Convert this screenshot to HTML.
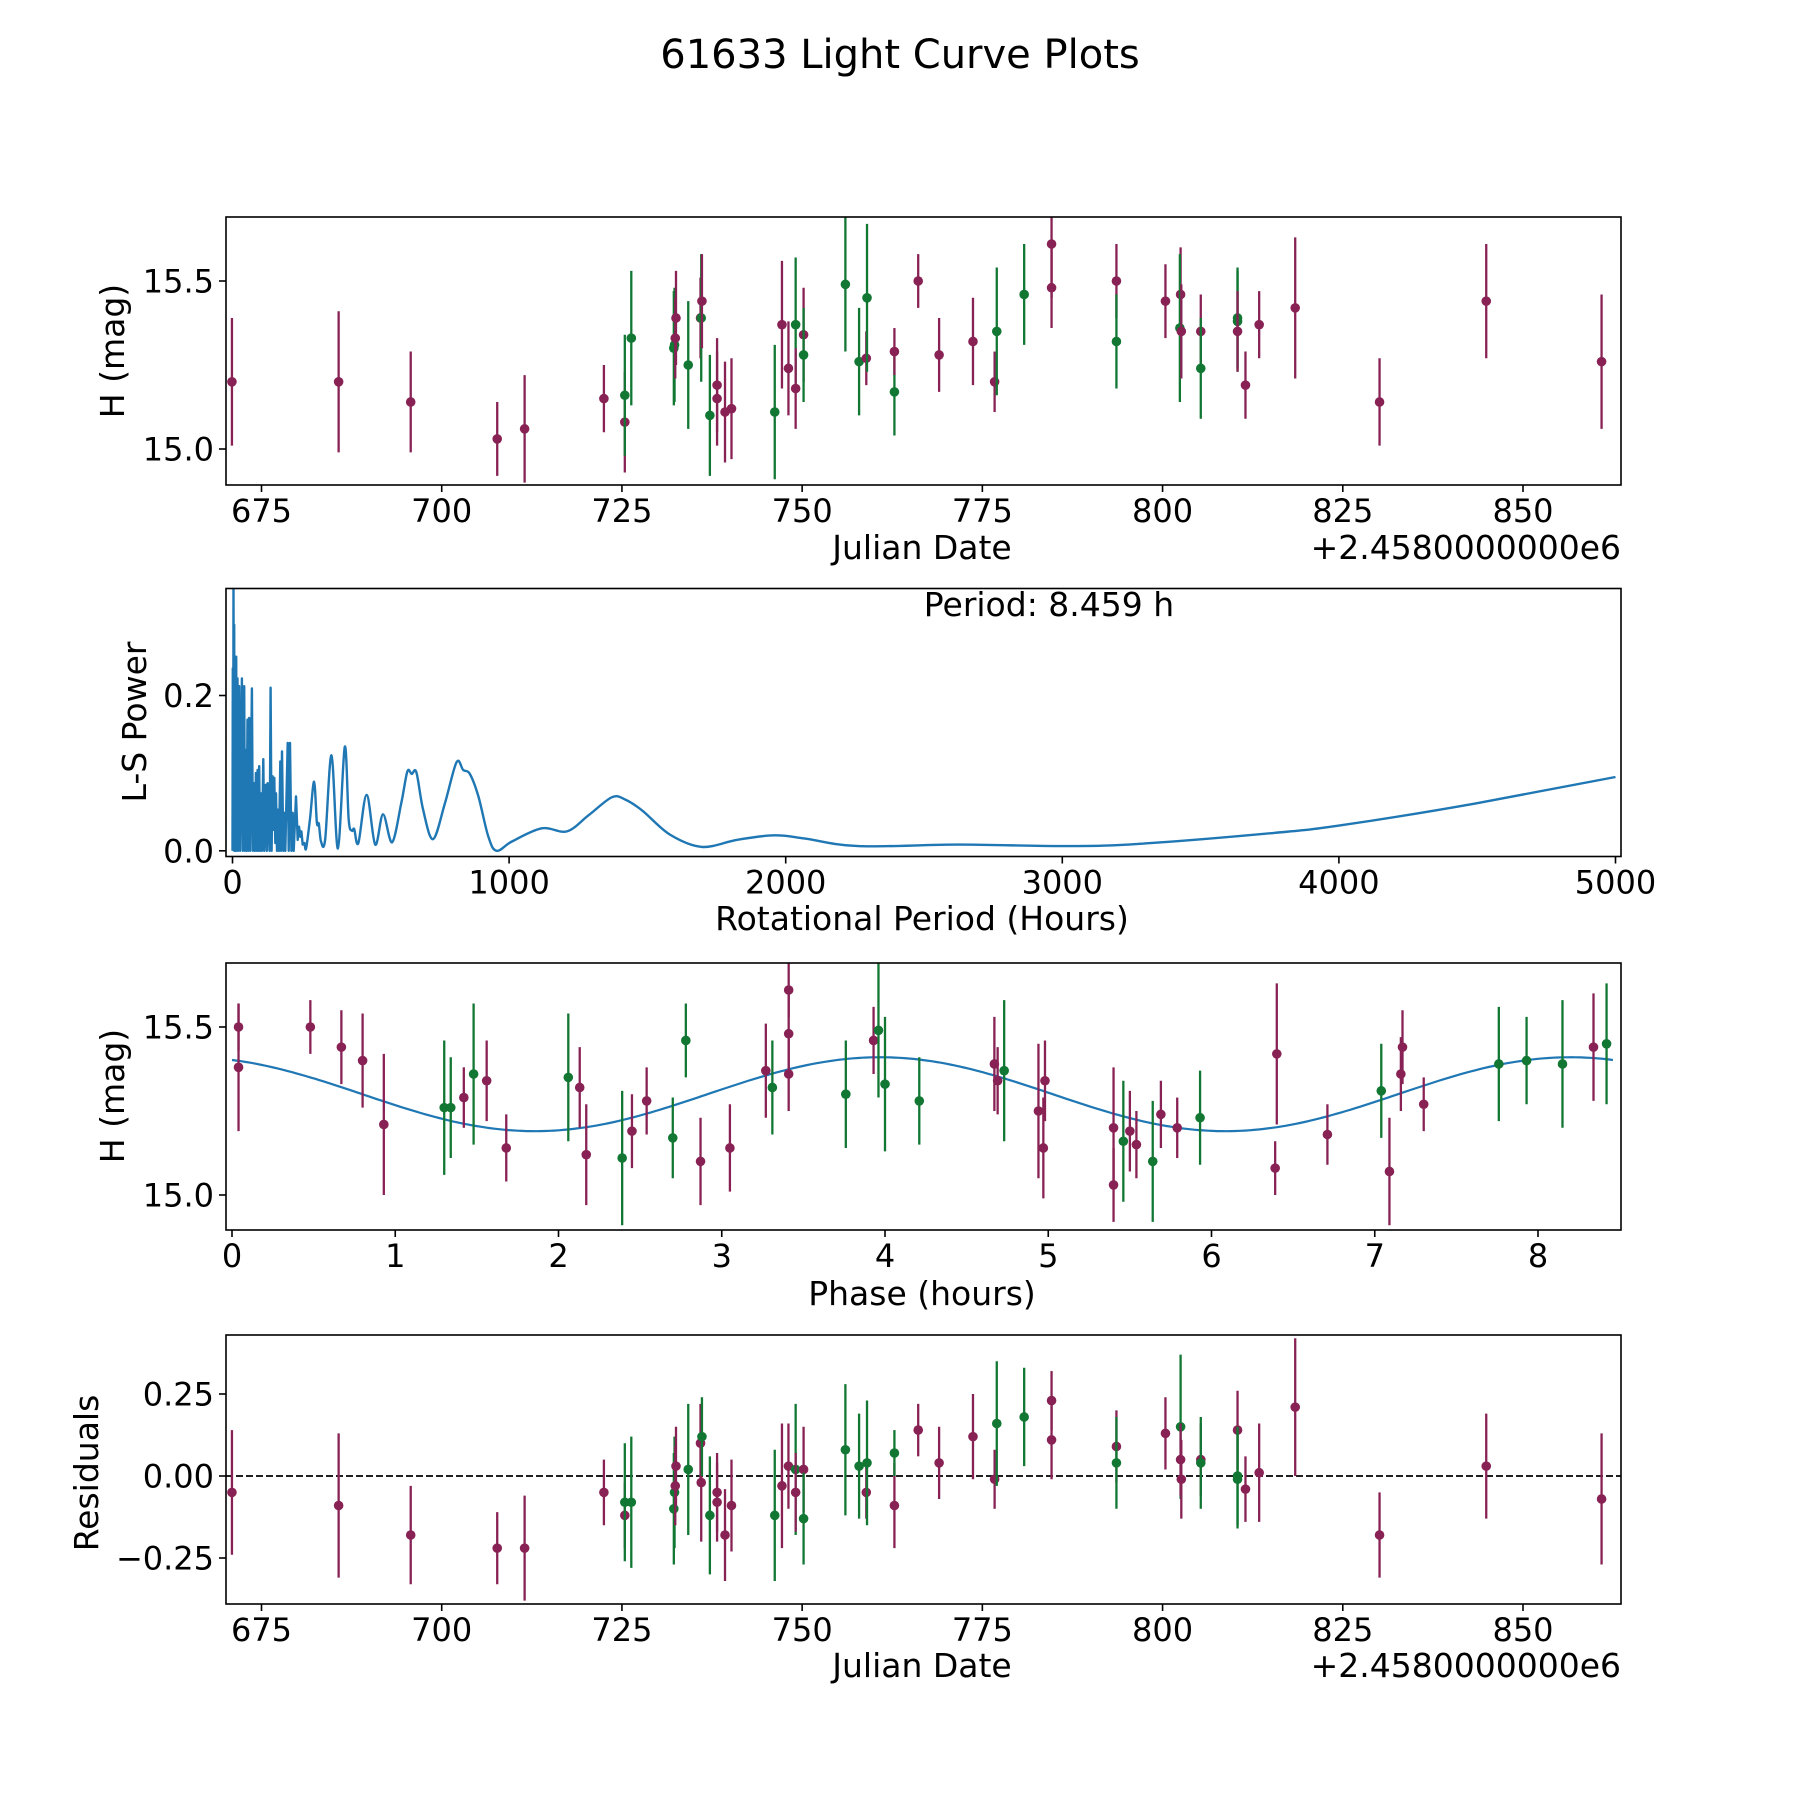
<!DOCTYPE html>
<html><head><meta charset="utf-8"><title>61633 Light Curve Plots</title>
<style>
html,body{margin:0;padding:0;background:#fff;}
svg{display:block;font-family:"DejaVu Sans","Liberation Sans",sans-serif;}
</style></head>
<body>
<svg id="fig" width="1800" height="1800" viewBox="0 0 1800 1800" xmlns="http://www.w3.org/2000/svg">
<rect x="0" y="0" width="1800" height="1800" fill="#fff"/>
<text x="900" y="68" font-size="40" text-anchor="middle">61633 Light Curve Plots</text>
</svg>
<script>
// ---- Panel 1: light curve (Julian Date offset from 2458000) ----
const jd   = [670.9,685.7,695.7,707.7,711.5,722.5,725.4,725.4,726.3,732.2,732.3,732.4,732.5,734.2,735.9,736.0,736.1,737.2,738.2,738.2,739.3,740.2,746.2,747.2,748.1,749.1,749.1,750.2,750.2,756.0,757.9,758.9,759.0,762.8,762.8,766.1,769.0,773.7,776.7,777.0,780.8,784.6,784.6,793.6,793.6,800.4,802.5,802.4,802.6,805.3,805.3,810.4,810.4,810.4,811.5,813.4,818.4,830.1,844.9,860.9];
const mag  = [15.20,15.20,15.14,15.03,15.06,15.15,15.08,15.16,15.33,15.30,15.31,15.33,15.39,15.25,15.39,15.39,15.44,15.10,15.19,15.15,15.11,15.12,15.11,15.37,15.24,15.37,15.18,15.34,15.28,15.49,15.26,15.27,15.45,15.17,15.29,15.50,15.28,15.32,15.20,15.35,15.46,15.61,15.48,15.50,15.32,15.44,15.46,15.36,15.35,15.35,15.24,15.39,15.38,15.35,15.19,15.37,15.42,15.14,15.44,15.26];
const magErr=[0.19,0.21,0.15,0.11,0.16,0.10,0.15,0.18,0.20,0.17,0.17,0.12,0.14,0.19,0.12,0.19,0.14,0.18,0.14,0.14,0.15,0.15,0.20,0.19,0.14,0.20,0.12,0.14,0.14,0.20,0.16,0.08,0.22,0.13,0.07,0.08,0.11,0.13,0.09,0.19,0.15,0.16,0.12,0.11,0.14,0.11,0.14,0.22,0.14,0.11,0.15,0.15,0.15,0.12,0.10,0.10,0.21,0.13,0.17,0.20];
const band = ["M","M","M","M","M","M","M","G","G","G","G","M","M","G","M","G","M","G","M","M","M","M","G","M","M","G","M","M","G","G","G","M","G","G","M","M","M","M","M","G","G","M","M","M","G","M","M","G","M","M","G","G","G","M","M","M","M","M","M","M"];
const p1XTicks=[675,700,725,750,775,800,825,850];
const p1YTicks=[15.0,15.5];
const p1YTickLabels=["15.0","15.5"];

// ---- Panel 2: Lomb-Scargle periodogram ----
const lsPeriod=[0,1.2,2.4,3.6,4.8,6,7.3,8.5,10.9,13.3,15.7,18.1,20.6,24.2,27.8,33.9,37.5,42.3,44.7,48.4,50.8,54.4,56.8,60.5,64.1,70.1,73.7,78.6,81,84.6,87,90.7,93.1,96.7,99.1,102.8,106.4,111.2,114.9,120.9,124.5,126.9,134.2,137.8,141.5,145.1,148.7,151.1,154.8,157.2,160.8,163.2,168,172.9,175.3,178.9,183.8,187.4,191,199.5,203.1,208,212.8,217.6,221.2,229.7,235.8,240.6,245.4,249,253.9,260,266,280,295,305,312,320,335,358,381,406,420,432,440,455,485,516,544,577,610,632,648,665,689,725,768,810,834,858,889,925,955,1010,1118,1209,1288,1372,1420,1481,1581,1697,1823,1958,2067,2262,2626,3014,3281,3766,4009,4495,5000];
const lsPower=[0,0.235,0.001,0.36,0.01,0.291,0,0.25,0,0.25,0,0.222,0,0.212,0,0.222,0,0.212,0,0.13,0,0.169,0,0.171,0,0.209,0,0.087,0,0.1,0,0.104,0,0.109,0,0.074,0,0.118,0,0.085,0,0.087,0,0.21,0,0.096,0.027,0.094,0.01,0.074,0,0.053,0,0.115,0,0.128,0,0.049,0,0.139,0,0.139,0,0.049,0,0.07,0.014,0.031,0.018,0.025,0.008,0.01,0.003,0.04,0.089,0.036,0.035,0.012,0.015,0.123,0.003,0.134,0.04,0.026,0.028,0.01,0.072,0.008,0.047,0.011,0.061,0.102,0.099,0.101,0.053,0.015,0.061,0.114,0.104,0.099,0.070,0.018,0.000,0.012,0.029,0.025,0.046,0.069,0.066,0.052,0.021,0.005,0.014,0.020,0.016,0.006,0.008,0.006,0.009,0.023,0.033,0.061,0.095];
const p2XTicks=[0,1000,2000,3000,4000,5000];
const p2YTicks=[0.0,0.2];
const p2YTickLabels=["0.0","0.2"];

// ---- Panel 3: phased light curve ----
const phase=[0.04,0.04,0.48,0.67,0.80,0.93,1.30,1.34,1.42,1.48,1.56,1.68,2.06,2.13,2.17,2.39,2.45,2.54,2.70,2.78,2.87,3.05,3.27,3.31,3.41,3.41,3.41,3.76,3.93,3.96,4.00,4.21,4.67,4.69,4.73,4.94,4.97,4.98,5.40,5.40,5.46,5.50,5.54,5.64,5.69,5.79,5.93,6.39,6.40,6.71,7.04,7.09,7.16,7.17,7.30,7.76,7.93,8.15,8.34,8.42];
const phMag=[15.50,15.38,15.50,15.44,15.40,15.21,15.26,15.26,15.29,15.36,15.34,15.14,15.35,15.32,15.12,15.11,15.19,15.28,15.17,15.46,15.10,15.14,15.37,15.32,15.61,15.48,15.36,15.30,15.46,15.49,15.33,15.28,15.39,15.34,15.37,15.25,15.14,15.34,15.03,15.20,15.16,15.19,15.15,15.10,15.24,15.20,15.23,15.08,15.42,15.18,15.31,15.07,15.36,15.44,15.27,15.39,15.40,15.39,15.44,15.45];
const phErr=[0.07,0.19,0.08,0.11,0.14,0.21,0.20,0.15,0.09,0.21,0.12,0.10,0.19,0.12,0.15,0.20,0.11,0.10,0.12,0.11,0.13,0.13,0.14,0.14,0.08,0.12,0.11,0.16,0.10,0.20,0.20,0.13,0.14,0.10,0.21,0.20,0.15,0.12,0.11,0.18,0.18,0.12,0.10,0.18,0.10,0.09,0.14,0.08,0.21,0.09,0.14,0.16,0.11,0.11,0.08,0.17,0.13,0.19,0.16,0.18];
const phBand=["M","M","M","M","M","M","G","G","M","G","M","M","G","M","M","G","M","M","G","G","M","M","M","G","M","M","M","G","M","G","G","G","M","M","G","M","M","M","M","M","G","M","M","G","M","M","G","M","M","M","G","M","M","M","M","G","G","G","M","G"];
const modelMean=[15.30];
const modelAmp=[0.11];
const modelPeakPhase=[3.97];
const rotPeriod=[8.459];
const p3XTicks=[0,1,2,3,4,5,6,7,8];

// ---- Panel 4: residuals ----
const resJd=[670.9,685.7,695.7,707.7,711.5,722.5,725.4,725.4,726.3,732.2,732.3,732.4,732.5,734.2,735.9,736.0,736.1,737.2,738.2,738.2,739.3,740.2,746.2,747.2,748.1,749.1,749.1,750.2,750.2,756.0,757.9,758.9,759.0,762.8,762.8,766.1,769.0,773.7,776.7,777.0,780.8,784.6,784.6,793.6,793.6,800.4,802.5,802.5,802.6,805.3,805.3,810.4,810.4,810.4,811.5,813.4,818.4,830.1,844.9,860.9];
const resid=[-0.05,-0.09,-0.18,-0.22,-0.22,-0.05,-0.12,-0.08,-0.08,-0.10,-0.05,-0.03,0.03,0.02,0.10,-0.02,0.12,-0.12,-0.05,-0.08,-0.18,-0.09,-0.12,-0.03,0.03,0.02,-0.05,0.02,-0.13,0.08,0.03,-0.05,0.04,-0.09,0.07,0.14,0.04,0.12,-0.01,0.16,0.18,0.23,0.11,0.09,0.04,0.13,0.15,0.05,-0.01,0.05,0.04,0.14,0.00,-0.01,-0.04,0.01,0.21,-0.18,0.03,-0.07];
const resErr=[0.19,0.22,0.15,0.11,0.16,0.10,0.10,0.18,0.20,0.17,0.17,0.12,0.12,0.20,0.12,0.18,0.12,0.18,0.12,0.12,0.14,0.14,0.20,0.19,0.13,0.20,0.12,0.13,0.14,0.20,0.16,0.08,0.19,0.13,0.07,0.08,0.11,0.13,0.09,0.19,0.15,0.09,0.12,0.11,0.14,0.11,0.22,0.11,0.12,0.11,0.14,0.12,0.15,0.15,0.10,0.15,0.21,0.13,0.16,0.20];
const resBand=["M","M","M","M","M","M","M","G","G","G","G","M","M","G","M","M","G","G","M","M","M","M","G","M","M","G","M","M","G","G","G","M","G","M","G","M","M","M","M","G","G","M","M","M","G","M","G","M","M","M","G","M","G","G","M","M","M","M","M","M"];
const p4YTicks=[-0.25,0,0.25];
const p4YTickLabels=["\u22120.25","0.00","0.25"];

const NS="http://www.w3.org/2000/svg";
const svg=document.getElementById('fig');
const COL={M:"#882255",G:"#117733"};
const PL=226, PR=1621;
function mk(tag,attrs,parent){const e=document.createElementNS(NS,tag);for(const k in attrs)e.setAttribute(k,attrs[k]);(parent||svg).appendChild(e);return e;}
function lin(d0,d1,r0,r1){return v=>r0+(v-d0)*(r1-r0)/(d1-d0);}

function axesFrame(g,L,T,R,B,name){
  const r=mk('rect',{x:L,y:T,width:R-L,height:B-T,fill:'none',stroke:'#000','stroke-width':1.6},g);
  
  
}
function xTicks(g,ticks,labels,sx,B,name){
  ticks.forEach((t,i)=>{
    const x=sx(t);
    const l=mk('line',{x1:x,y1:B,x2:x,y2:B+7,stroke:'#000','stroke-width':1.6},g);
    
    
    const tx=mk('text',{x:x,y:B+37,'font-size':32,'text-anchor':'middle'},g);
    tx.textContent=labels[i];
    
    
  });
}
function yTicks(g,ticks,labels,sy,L,name){
  ticks.forEach((t,i)=>{
    const y=sy(t);
    const l=mk('line',{x1:L-7,y1:y,x2:L,y2:y,stroke:'#000','stroke-width':1.6},g);
    
    
    const tx=mk('text',{x:L-12,y:y+11.5,'font-size':32,'text-anchor':'end'},g);
    tx.textContent=labels[i];
    
    
  });
}
function label(g,txt,x,y,rot,name,anchor){
  const t=mk('text',{x:x,y:y,'font-size':33,'text-anchor':anchor||'middle'},g);
  if(rot)t.setAttribute('transform','rotate(-90 '+x+' '+y+')');
  t.textContent=txt;
  
  
}
function errPoints(g,xs,ys,es,cs,sx,sy,clipId,name){
  const pg=mk('g',{'clip-path':'url(#'+clipId+')'},g);
  xs.forEach((xv,i)=>{
    const x=sx(xv),c=COL[cs[i]];
    const l=mk('line',{x1:x,y1:sy(ys[i]-es[i]),x2:x,y2:sy(ys[i]+es[i]),stroke:c,'stroke-width':2.3},pg);
    
    
    const p=mk('circle',{cx:x,cy:sy(ys[i]),r:4.8,fill:c},pg);
    
    
  });
}
function clip(id,L,T,R,B){const d=mk('clipPath',{id:id});mk('rect',{x:L,y:T,width:R-L,height:B-T},d);}

// Panel 1
(function(){
  const L=PL,R=PR,T=217,B=485;
  const g=mk('g',{});  
  const sx=lin(675,850,261.5,1523), sy=lin(15.0,15.5,449,281);
  clip('c1',L,T,R,B);
  errPoints(g,jd,mag,magErr,band,sx,sy,'c1','light-curve');
  axesFrame(g,L,T,R,B,'light-curve');
  xTicks(g,p1XTicks,p1XTicks.map(String),sx,B,'light-curve');
  yTicks(g,p1YTicks,p1YTickLabels,sy,L,'light-curve');
  label(g,'Julian Date',922,559,false,'x-axis-title-julian-date');
  label(g,'+2.4580000000e6',R,559,false,'x-axis-offset-text','end');
  label(g,'H (mag)',124,351,true,'y-axis-title-h-mag');
})();

// Panel 2
(function(){
  const L=PL,R=PR,T=588.5,B=856.5;
  const g=mk('g',{});  
  const sx=lin(0,5000,232.5,1615.5), sy=lin(0,0.2,850.8,695.5);
  clip('c2',L,T,R,B);
  const pg=mk('g',{'clip-path':'url(#c2)'},g);
  const px=lsPeriod.map(p=>sx(p)), py=lsPower.map(v=>sy(v));
  let d='M'+px[0].toFixed(1)+' '+py[0].toFixed(1);
  for(let i=1;i<px.length;i++){
    if(lsPeriod[i-1]>=260 && i+1<px.length){
      const i0=i-2, i3=i+1;
      const c1x=px[i-1]+(px[i]-px[i0])/6, c1y=py[i-1]+(py[i]-py[i0])/6;
      const c2x=px[i]-(px[i3]-px[i-1])/6, c2y=py[i]-(py[i3]-py[i-1])/6;
      d+=' C'+c1x.toFixed(1)+' '+c1y.toFixed(1)+' '+c2x.toFixed(1)+' '+c2y.toFixed(1)+' '+px[i].toFixed(1)+' '+py[i].toFixed(1);
    } else {
      d+=' L'+px[i].toFixed(1)+' '+py[i].toFixed(1);
    }
  }
  const path=mk('path',{d:d,fill:'none',stroke:'#1f77b4','stroke-width':2.4,'stroke-linejoin':'round'},pg);
  
  
  axesFrame(g,L,T,R,B,'periodogram');
  xTicks(g,p2XTicks,p2XTicks.map(String),sx,B,'periodogram');
  yTicks(g,p2YTicks,p2YTickLabels,sy,L,'periodogram');
  label(g,'Rotational Period (Hours)',922,930,false,'x-axis-title-rotational-period');
  label(g,'L-S Power',146,722,true,'y-axis-title-ls-power');
  label(g,'Period: 8.459 h',1049,616,false,'period-annotation');
})();

// Panel 3
(function(){
  const L=PL,R=PR,T=963,B=1230;
  const g=mk('g',{});  
  const sx=lin(0,8,232,1538), sy=lin(15.0,15.5,1195,1027);
  clip('c3',L,T,R,B);
  const pg=mk('g',{'clip-path':'url(#c3)'},g);
  let d='';
  for(let i=0;i<=300;i++){
    const ph=rotPeriod[0]*i/300;
    const v=modelMean[0]+modelAmp[0]*Math.cos(2*Math.PI*2*(ph-modelPeakPhase[0])/rotPeriod[0]);
    d+=(i?'L':'M')+sx(ph).toFixed(1)+' '+sy(v).toFixed(1)+' ';
  }
  const m=mk('path',{d:d,fill:'none',stroke:'#1f77b4','stroke-width':2.2},pg);
  
  
  errPoints(g,phase,phMag,phErr,phBand,sx,sy,'c3','phase');
  axesFrame(g,L,T,R,B,'phase');
  xTicks(g,p3XTicks,p3XTicks.map(String),sx,B,'phase');
  yTicks(g,p1YTicks,p1YTickLabels,sy,L,'phase');
  label(g,'Phase (hours)',922,1305,false,'x-axis-title-phase');
  label(g,'H (mag)',124,1096,true,'y-axis-title-phase-h-mag');
})();

// Panel 4
(function(){
  const L=PL,R=PR,T=1335,B=1604;
  const g=mk('g',{});  
  const sx=lin(675,850,261.5,1523), sy=lin(0,0.25,1476,1394);
  clip('c4',L,T,R,B);
  const z=mk('line',{x1:L,y1:sy(0),x2:R,y2:sy(0),stroke:'#000','stroke-width':1.8,'stroke-dasharray':'7,3'},g);
  
  
  errPoints(g,resJd,resid,resErr,resBand,sx,sy,'c4','residual');
  axesFrame(g,L,T,R,B,'residuals');
  xTicks(g,p1XTicks,p1XTicks.map(String),sx,B,'residuals');
  yTicks(g,p4YTicks,p4YTickLabels,sy,L,'residuals');
  label(g,'Julian Date',922,1677,false,'x-axis-title-residual-julian-date');
  label(g,'+2.4580000000e6',R,1677,false,'residual-x-offset-text','end');
  label(g,'Residuals',98,1473,true,'y-axis-title-residuals');
})();
</script>
</body></html>
